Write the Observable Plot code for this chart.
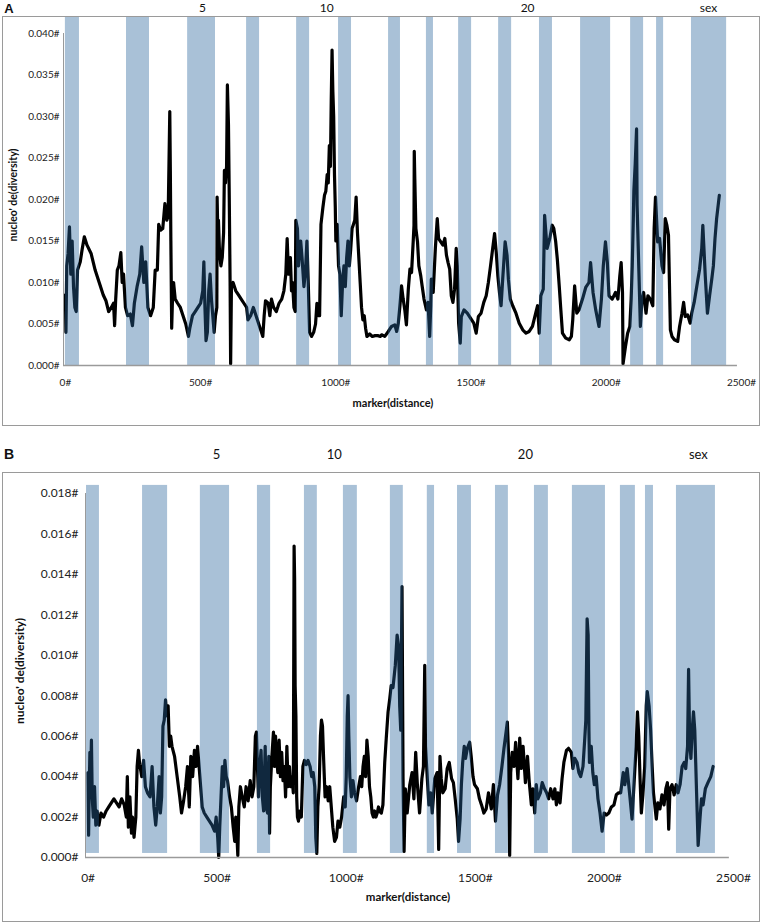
<!DOCTYPE html>
<html><head><meta charset="utf-8">
<script src="https://cdn.jsdelivr.net/npm/d3@7"></script>
<script src="https://cdn.jsdelivr.net/npm/@observablehq/plot@0.6"></script>
<style>
body{margin:0;background:#fff;}
#wrap{position:relative;width:762px;height:923px;overflow:hidden;font-family:Lato,"Open Sans",sans-serif;}
#wrap svg{position:absolute;left:0;}
.box{position:absolute;border:1px solid #9a9a9a;box-sizing:border-box;pointer-events:none;}
.t{position:absolute;white-space:nowrap;color:#111;transform:translate(-50%,-50%);line-height:1;}
.lab{font-family:"Liberation Sans",Arial,sans-serif;font-weight:bold;}
.tt{font-weight:bold;}
</style></head><body><div id="wrap"></div>
<script>
// ---- data ----
const chromLabels = ["5", "10", "20", "sex"];
const chromPosA = [507, 966, 1709, 2378];
const chromPosB = [497, 954, 1694, 2364];

const xTicks = [0, 500, 1000, 1500, 2000, 2500];
const xTickLabels = ["0#", "500#", "1000#", "1500#", "2000#", "2500#"];
const yTicksA = [0, 0.005, 0.010, 0.015, 0.020, 0.025, 0.030, 0.035, 0.040];
const yTickLabelsA = ["0.000#", "0.005#", "0.010#", "0.015#", "0.020#", "0.025#", "0.030#", "0.035#", "0.040#"];
const yTicksB = [0, 0.002, 0.004, 0.006, 0.008, 0.010, 0.012, 0.014, 0.016, 0.018];
const yTickLabelsB = ["0.000#", "0.002#", "0.004#", "0.006#", "0.008#", "0.010#", "0.012#", "0.014#", "0.016#", "0.018#"];

// alternating chromosome bands (marker index)
const bandStartA = [0, 226, 452, 670, 855, 1010, 1195, 1335, 1454, 1602, 1753, 1905, 2090, 2186, 2315];
const bandEndA   = [52, 311, 555, 718, 903, 1058, 1239, 1361, 1502, 1650, 1801, 2016, 2138, 2212, 2445];
const bandStartB = [-6, 211, 435, 656, 838, 989, 1171, 1314, 1431, 1578, 1729, 1876, 2062, 2159, 2279];
const bandEndB   = [44, 308, 548, 707, 888, 1043, 1221, 1342, 1485, 1628, 1783, 2004, 2120, 2190, 2430];

// nucleotide diversity along markers: [marker, diversity]
const seriesA = [
[0,0.0085],[2,0.0040],[5,0.0120],[10,0.0135],[15,0.0167],[20,0.0110],[25,0.0150],[30,0.0095],[35,0.0070],[40,0.0065],
[45,0.0115],[50,0.0120],[55,0.0125],[62,0.0140],[70,0.0155],[80,0.0145],[95,0.0135],[110,0.0115],[125,0.0100],[140,0.0085],
[150,0.0078],[160,0.0065],[170,0.0070],[178,0.0075],[182,0.0048],[186,0.0080],[192,0.0115],[198,0.0120],[205,0.0136],[210,0.0100],
[215,0.0110],[222,0.0070],[230,0.0060],[240,0.0062],[248,0.0048],[255,0.0075],[265,0.0095],[275,0.0110],[282,0.0143],[290,0.0100],
[297,0.0125],[305,0.0070],[315,0.0060],[325,0.0070],[332,0.0115],[340,0.0115],[345,0.0170],[352,0.0163],[360,0.0165],[368,0.0195],
[375,0.0175],[380,0.0180],[386,0.0306],[388,0.0237],[390,0.0150],[393,0.0045],[396,0.0080],[400,0.0100],[406,0.0080],[415,0.0075],
[425,0.0070],[435,0.0060],[445,0.0050],[455,0.0035],[460,0.0045],[470,0.0060],[480,0.0065],[490,0.0070],[500,0.0075],[508,0.0090],
[512,0.0125],[516,0.0070],[520,0.0030],[525,0.0040],[530,0.0090],[535,0.0110],[540,0.0080],[545,0.0060],[550,0.0040],[555,0.0060],
[560,0.0070],[561,0.0203],[563,0.0170],[566,0.0175],[570,0.0135],[575,0.0120],[580,0.0130],[585,0.0160],[588,0.0235],[592,0.0220],
[596,0.0240],[599,0.0338],[603,0.0290],[606,0.0200],[609,0.0100],[611,0.0002],[614,0.0095],[620,0.0100],[630,0.0090],[640,0.0085],
[650,0.0080],[660,0.0075],[670,0.0070],[675,0.0055],[685,0.0060],[695,0.0070],[705,0.0060],[715,0.0050],[725,0.0040],[730,0.0035],
[735,0.0060],[740,0.0078],[750,0.0075],[756,0.0060],[762,0.0080],[770,0.0070],[780,0.0065],[790,0.0075],[800,0.0080],[808,0.0090],
[815,0.0110],[820,0.0153],[825,0.0110],[832,0.0130],[836,0.0090],[840,0.0100],[845,0.0070],[850,0.0065],[852,0.0175],[858,0.0165],
[862,0.0120],[866,0.0140],[870,0.0150],[875,0.0130],[882,0.0095],[888,0.0115],[893,0.0150],[898,0.0100],[903,0.0040],[910,0.0035],
[918,0.0040],[925,0.0050],[930,0.0075],[935,0.0060],[940,0.0060],[945,0.0170],[952,0.0190],[958,0.0205],[963,0.0210],[968,0.0230],
[972,0.0220],[976,0.0265],[980,0.0240],[983,0.0320],[986,0.0380],[989,0.0330],[992,0.0300],[995,0.0230],[998,0.0190],[1000,0.0150],
[1005,0.0170],[1010,0.0120],[1015,0.0110],[1020,0.0060],[1025,0.0100],[1030,0.0120],[1035,0.0095],[1040,0.0130],[1045,0.0150],[1050,0.0120],
[1055,0.0140],[1060,0.0165],[1065,0.0170],[1070,0.0175],[1075,0.0203],[1080,0.0160],[1085,0.0130],[1090,0.0100],[1095,0.0070],[1100,0.0055],
[1105,0.0060],[1110,0.0045],[1115,0.0035],[1125,0.0038],[1135,0.0035],[1145,0.0036],[1155,0.0036],[1165,0.0035],[1169,0.0037],[1181,0.0035],
[1194,0.0041],[1206,0.0047],[1218,0.0049],[1225,0.0041],[1231,0.0051],[1237,0.0072],[1243,0.0096],[1249,0.0080],[1255,0.0067],[1261,0.0049],
[1268,0.0092],[1274,0.0116],[1280,0.0112],[1286,0.0149],[1289,0.0169],[1290,0.0258],[1292,0.0225],[1296,0.0165],[1302,0.0149],[1307,0.0120],
[1314,0.0108],[1319,0.0096],[1326,0.0080],[1335,0.0067],[1341,0.0076],[1347,0.0035],[1351,0.0072],[1353,0.0104],[1360,0.0088],[1368,0.0141],
[1375,0.0177],[1380,0.0153],[1388,0.0149],[1396,0.0145],[1403,0.0153],[1409,0.0133],[1415,0.0124],[1421,0.0116],[1427,0.0084],[1433,0.0076],
[1439,0.0092],[1445,0.0141],[1449,0.0120],[1454,0.0051],[1460,0.0027],[1464,0.0059],[1474,0.0067],[1486,0.0063],[1498,0.0057],[1510,0.0051],
[1519,0.0039],[1527,0.0059],[1537,0.0063],[1547,0.0076],[1556,0.0084],[1564,0.0100],[1572,0.0120],[1580,0.0141],[1587,0.0159],[1593,0.0137],
[1599,0.0108],[1605,0.0088],[1611,0.0072],[1617,0.0104],[1626,0.0149],[1633,0.0133],[1638,0.0104],[1645,0.0080],[1654,0.0072],[1666,0.0063],
[1678,0.0051],[1691,0.0043],[1703,0.0039],[1715,0.0041],[1727,0.0047],[1739,0.0063],[1746,0.0072],[1752,0.0039],[1758,0.0084],[1767,0.0092],
[1772,0.0181],[1781,0.0141],[1791,0.0153],[1800,0.0169],[1806,0.0165],[1813,0.0149],[1819,0.0128],[1826,0.0096],[1832,0.0067],[1838,0.0039],
[1850,0.0033],[1863,0.0031],[1871,0.0035],[1876,0.0055],[1883,0.0096],[1891,0.0063],[1899,0.0067],[1912,0.0080],[1924,0.0094],[1936,0.0100],
[1942,0.0124],[1951,0.0088],[1961,0.0067],[1973,0.0047],[1982,0.0080],[1989,0.0120],[1997,0.0149],[2004,0.0124],[2010,0.0084],[2022,0.0080],
[2034,0.0088],[2043,0.0080],[2050,0.0108],[2055,0.0124],[2060,0.0088],[2062,0.0002],[2071,0.0023],[2079,0.0039],[2087,0.0047],[2092,0.0080],
[2096,0.0120],[2100,0.0177],[2102,0.0210],[2107,0.0243],[2112,0.0285],[2114,0.0193],[2120,0.0120],[2126,0.0047],[2132,0.0080],[2138,0.0088],
[2147,0.0063],[2154,0.0084],[2163,0.0080],[2172,0.0072],[2177,0.0165],[2182,0.0203],[2190,0.0149],[2197,0.0153],[2206,0.0120],[2212,0.0112],
[2218,0.0177],[2224,0.0169],[2230,0.0157],[2237,0.0043],[2243,0.0035],[2252,0.0031],[2264,0.0029],[2271,0.0047],[2280,0.0063],[2286,0.0076],
[2292,0.0059],[2301,0.0061],[2310,0.0051],[2316,0.0063],[2325,0.0076],[2335,0.0096],[2345,0.0116],[2353,0.0141],[2357,0.0169],[2366,0.0108],
[2374,0.0063],[2382,0.0084],[2390,0.0104],[2396,0.0120],[2402,0.0153],[2408,0.0177],[2418,0.0205]
];

const seriesB = [
[0,0.0042],[2,0.0011],[4,0.0030],[7,0.0052],[10,0.0040],[13,0.0058],[16,0.0030],[20,0.0020],[25,0.0035],[30,0.0016],
[35,0.0023],[42,0.0016],[50,0.0022],[60,0.0020],[70,0.0023],[80,0.0025],[90,0.0027],[100,0.0029],[110,0.0027],[120,0.0025],
[130,0.0029],[140,0.0026],[148,0.0020],[152,0.0040],[156,0.0015],[162,0.0030],[168,0.0012],[172,0.0020],[178,0.0010],[185,0.0020],
[190,0.0045],[195,0.0053],[200,0.0046],[208,0.0040],[215,0.0048],[222,0.0035],[230,0.0032],[240,0.0030],[248,0.0045],[255,0.0025],
[262,0.0016],[268,0.0025],[275,0.0040],[280,0.0022],[285,0.0030],[290,0.0065],[295,0.0068],[300,0.0078],[305,0.0070],[310,0.0075],
[315,0.0055],[320,0.0060],[325,0.0055],[335,0.0050],[345,0.0040],[355,0.0030],[362,0.0022],[370,0.0028],[378,0.0035],[385,0.0045],
[392,0.0025],[398,0.0050],[405,0.0040],[412,0.0053],[418,0.0045],[424,0.0055],[430,0.0045],[436,0.0035],[442,0.0025],[450,0.0022],
[460,0.0020],[470,0.0018],[480,0.0016],[490,0.0013],[496,0.0020],[502,0.0010],[506,0.0000],[510,0.0015],[515,0.0030],[520,0.0045],
[525,0.0035],[530,0.0048],[535,0.0040],[540,0.0038],[548,0.0030],[555,0.0025],[562,0.0015],[568,0.0008],[572,0.0020],[576,0.0012],
[580,0.0001],[584,0.0025],[590,0.0035],[597,0.0030],[605,0.0025],[612,0.0035],[620,0.0028],[628,0.0038],[635,0.0030],[642,0.0035],
[648,0.0060],[652,0.0062],[656,0.0045],[660,0.0030],[665,0.0045],[670,0.0053],[675,0.0030],[680,0.0023],[686,0.0055],[690,0.0025],
[695,0.0022],[700,0.0050],[703,0.0012],[706,0.0035],[712,0.0050],[718,0.0062],[722,0.0045],[726,0.0060],[730,0.0050],[735,0.0042],
[740,0.0058],[745,0.0040],[750,0.0052],[755,0.0038],[760,0.0045],[765,0.0030],[770,0.0055],[775,0.0035],[780,0.0045],[785,0.0035],
[790,0.0040],[795,0.0032],[798,0.0154],[800,0.0138],[802,0.0085],[805,0.0070],[808,0.0030],[811,0.0020],[815,0.0018],[820,0.0023],
[826,0.0020],[832,0.0045],[838,0.0048],[845,0.0046],[852,0.0048],[860,0.0045],[866,0.0040],[872,0.0042],[878,0.0035],[882,0.0010],
[886,0.0002],[890,0.0025],[895,0.0035],[900,0.0060],[904,0.0068],[908,0.0065],[912,0.0050],[918,0.0030],[924,0.0035],[930,0.0028],
[936,0.0035],[942,0.0025],[948,0.0015],[955,0.0008],[962,0.0010],[968,0.0018],[975,0.0015],[982,0.0020],[990,0.0030],[996,0.0025],
[1000,0.0040],[1004,0.0070],[1007,0.0080],[1010,0.0060],[1014,0.0040],[1020,0.0030],[1026,0.0038],[1032,0.0032],[1040,0.0028],[1048,0.0035],
[1055,0.0040],[1060,0.0035],[1065,0.0045],[1070,0.0050],[1075,0.0040],[1080,0.0058],[1085,0.0050],[1090,0.0035],[1095,0.0030],[1100,0.0022],
[1105,0.0020],[1110,0.0023],[1115,0.0020],[1120,0.0022],[1125,0.0025],[1128,0.0023],[1136,0.0022],[1142,0.0026],[1149,0.0047],[1155,0.0059],
[1162,0.0072],[1168,0.0078],[1174,0.0085],[1181,0.0084],[1190,0.0095],[1197,0.0110],[1203,0.0104],[1207,0.0075],[1211,0.0063],[1216,0.0134],
[1220,0.0039],[1224,0.0003],[1229,0.0034],[1236,0.0022],[1246,0.0036],[1255,0.0042],[1262,0.0029],[1269,0.0052],[1275,0.0037],[1284,0.0022],
[1293,0.0039],[1299,0.0045],[1304,0.0095],[1307,0.0055],[1314,0.0039],[1320,0.0026],[1327,0.0032],[1333,0.0022],[1343,0.0039],[1352,0.0042],
[1358,0.0004],[1363,0.0050],[1368,0.0039],[1374,0.0032],[1383,0.0034],[1391,0.0044],[1399,0.0047],[1408,0.0039],[1415,0.0037],[1422,0.0029],
[1430,0.0019],[1435,0.0008],[1441,0.0019],[1446,0.0036],[1451,0.0047],[1457,0.0055],[1462,0.0049],[1469,0.0054],[1478,0.0057],[1484,0.0050],
[1491,0.0040],[1497,0.0036],[1508,0.0034],[1516,0.0029],[1524,0.0026],[1533,0.0022],[1542,0.0024],[1551,0.0032],[1562,0.0024],[1570,0.0036],
[1578,0.0018],[1586,0.0031],[1594,0.0036],[1603,0.0045],[1611,0.0054],[1619,0.0062],[1624,0.0067],[1629,0.0050],[1633,0.0001],[1637,0.0042],
[1643,0.0052],[1650,0.0045],[1656,0.0057],[1665,0.0039],[1672,0.0059],[1678,0.0044],[1685,0.0055],[1694,0.0037],[1702,0.0050],[1709,0.0037],
[1717,0.0026],[1723,0.0034],[1730,0.0022],[1736,0.0036],[1742,0.0029],[1752,0.0032],[1759,0.0037],[1768,0.0034],[1776,0.0032],[1784,0.0029],
[1792,0.0034],[1801,0.0029],[1808,0.0034],[1814,0.0026],[1820,0.0032],[1828,0.0027],[1836,0.0039],[1843,0.0047],[1853,0.0053],[1861,0.0054],
[1872,0.0052],[1878,0.0044],[1885,0.0049],[1894,0.0047],[1901,0.0042],[1908,0.0040],[1917,0.0045],[1924,0.0059],[1928,0.0068],[1933,0.0118],
[1937,0.0110],[1940,0.0063],[1942,0.0047],[1949,0.0055],[1955,0.0042],[1961,0.0036],[1968,0.0040],[1975,0.0029],[1983,0.0022],[1991,0.0013],
[1999,0.0022],[2008,0.0021],[2017,0.0022],[2027,0.0025],[2037,0.0026],[2046,0.0031],[2055,0.0032],[2063,0.0032],[2073,0.0042],[2079,0.0036],
[2088,0.0044],[2098,0.0031],[2107,0.0019],[2115,0.0037],[2123,0.0055],[2128,0.0072],[2133,0.0060],[2138,0.0039],[2143,0.0022],[2149,0.0031],
[2156,0.0045],[2162,0.0075],[2166,0.0082],[2173,0.0075],[2179,0.0063],[2185,0.0045],[2190,0.0032],[2195,0.0026],[2201,0.0019],[2207,0.0027],
[2215,0.0024],[2223,0.0031],[2231,0.0026],[2238,0.0034],[2244,0.0037],[2249,0.0014],[2254,0.0034],[2262,0.0036],[2270,0.0031],[2278,0.0036],
[2285,0.0032],[2293,0.0036],[2301,0.0045],[2309,0.0047],[2315,0.0044],[2322,0.0055],[2326,0.0093],[2330,0.0059],[2335,0.0049],[2340,0.0063],
[2345,0.0072],[2350,0.0063],[2357,0.0032],[2363,0.0006],[2370,0.0019],[2376,0.0029],[2382,0.0026],[2391,0.0034],[2401,0.0037],[2412,0.0040],
[2421,0.0045]
];

// ---- drawing ----
const wrap = document.getElementById("wrap");
const FONT = "Lato, 'Open Sans', sans-serif";

function panel(cfg) {
  const line = cfg.series.map(([m, v]) => ({m, v}));
  const bands = cfg.bandStart.map((s, i) => ({s, e: cfg.bandEnd[i]}));
  const chroms = chromLabels.map((l, i) => ({l, p: cfg.chromPos[i]}));
  const svg = Plot.plot({
    width: 762,
    height: cfg.height,
    marginLeft: cfg.ml, marginRight: cfg.mr, marginTop: cfg.mt, marginBottom: cfg.mb,
    style: {fontFamily: FONT, fontSize: cfg.tickFont + "px", color: "#222", background: "transparent", overflow: "visible"},
    x: {domain: cfg.xDomain, ticks: xTicks, tickFormat: d => xTickLabels[xTicks.indexOf(d)],
        tickSize: 0, tickPadding: cfg.xPad, label: null},
    y: {domain: cfg.yDomain, ticks: cfg.yTicks, tickFormat: d => cfg.yTickLabels[cfg.yTicks.indexOf(d)],
        tickSize: 0, tickPadding: cfg.yPad, label: null},
    marks: [
      Plot.line(line, {x: "m", y: "v", stroke: "#000", strokeWidth: 3.2, strokeLinejoin: "round", strokeLinecap: "round"}),
      Plot.rect(bands, {x1: "s", x2: "e", y1: cfg.bandBase, y2: cfg.bandTop, fill: "#28649a", fillOpacity: 0.4}),
      Plot.ruleX([cfg.xDomain[0]], {y1: 0, y2: cfg.yDomain[1], stroke: "#9a9a9a", strokeWidth: 1}),
      Plot.ruleY([0], {x1: cfg.xDomain[0], x2: cfg.axisEnd, stroke: "#9a9a9a", strokeWidth: 1.5}),
      Plot.text(chroms, {x: "p", y: cfg.chromY, text: "l", fontSize: cfg.chromFont, fill: "#111"})
    ]
  });
  svg.style.top = cfg.top + "px";
  wrap.appendChild(svg);
}

function box(l, t, w, h) {
  const d = document.createElement("div");
  d.className = "box";
  Object.assign(d.style, {left: l + "px", top: t + "px", width: w + "px", height: h + "px"});
  wrap.appendChild(d);
}
function txt(s, x, y, size, cls, rot) {
  const d = document.createElement("div");
  d.className = "t " + (cls || "");
  d.textContent = s;
  Object.assign(d.style, {left: x + "px", top: y + "px", fontSize: size + "px"});
  if (rot) d.style.transform = "translate(-50%,-50%) rotate(-90deg)";
  wrap.appendChild(d);
}

// Panel A
panel({
  series: seriesA, bandStart: bandStartA, bandEnd: bandEndA, chromPos: chromPosA,
  top: 0, height: 430, ml: 63, mr: 21, mt: 33, mb: 65,
  xDomain: [-7, 2500], yDomain: [0, 0.040], yTicks: yTicksA, yTickLabels: yTickLabelsA,
  tickFont: 10, xPad: 13, yPad: 4, bandBase: 0, bandTop: 0.04205, axisEnd: 2485,
  chromY: 0.04307, chromFont: 12
});
box(2, 16, 758, 410);
txt("A", 9, 8, 13, "lab");
txt("nucleo' de(diversity)", 13, 195, 10.5, "tt", true);
txt("marker(distance)", 393, 402, 11, "tt");

// Panel B
panel({
  series: seriesB, bandStart: bandStartB, bandEnd: bandEndB, chromPos: chromPosB,
  top: 430, height: 493, ml: 85, mr: 29, mt: 63, mb: 66,
  xDomain: [-10, 2500], yDomain: [0, 0.018], yTicks: yTicksB, yTickLabels: yTickLabelsB,
  tickFont: 12, xPad: 16, yPad: 7, bandBase: 0.0002, bandTop: 0.0184, axisEnd: 2484,
  chromY: 0.01993, chromFont: 13
});
box(2, 472, 758, 450);
txt("B", 9, 454, 14, "lab");
txt("nucleo' de(diversity)", 20, 671, 12, "tt", true);
txt("marker(distance)", 408, 897, 11.5, "tt");
</script></body></html>
